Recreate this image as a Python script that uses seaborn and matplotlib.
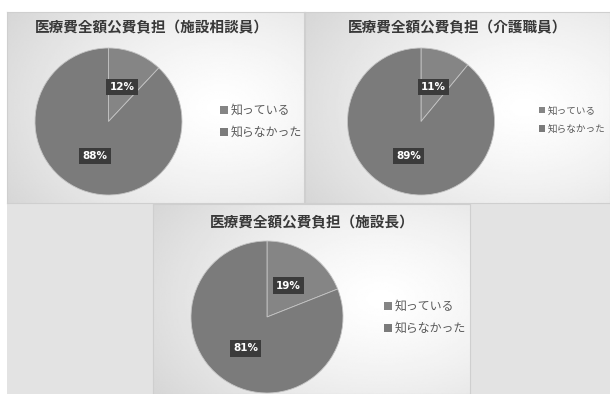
import numpy as np
import matplotlib
matplotlib.use("Agg")
import matplotlib.pyplot as plt
from matplotlib.patches import Rectangle, Patch
import seaborn as sns

sns.set_theme(style="white")
plt.rcParams["font.family"] = ["Noto Sans CJK JP", "DejaVu Sans"]

# Data
categories = ["知っている", "知らなかった"]
titles = ["医療費全額公費負担（施設相談員）",
          "医療費全額公費負担（介護職員）",
          "医療費全額公費負担（施設長）"]
counselor_pct = [12, 88]
careworker_pct = [11, 89]
director_pct = [19, 81]
values = [counselor_pct, careworker_pct, director_pct]

slice_colors = ["#858585", "#7b7b7b"]
palette = sns.color_palette(slice_colors)

W, H = 610, 394
fig = plt.figure(figsize=(W / 100, H / 100), dpi=100)
fig.patch.set_facecolor("white")


def fig_rect(x0, y0, x1, y1):
    """Pixel box (top-left origin) -> figure fraction [l, b, w, h]."""
    return [x0 / W, 1 - y1 / H, (x1 - x0) / W, (y1 - y0) / H]


# Grey backdrop behind the lower row
bg = fig.add_axes(fig_rect(7, 204, 610, 394))
bg.set_axis_off()
bg.add_patch(Rectangle((0, 0), 1, 1, transform=bg.transAxes,
                       facecolor="#e3e3e3", edgecolor="none"))


def panel_background(box, cx=0.72, cy=0.5):
    ax = fig.add_axes(fig_rect(*box))
    ny, nx = 120, 200
    yy, xx = np.mgrid[0:1:ny * 1j, 0:1:nx * 1j]
    d = np.sqrt(((xx - cx) * 1.0) ** 2 + ((yy - cy) * 0.9) ** 2)
    d = d / d.max()
    shade = 1.0 - 0.16 * d ** 1.3
    ax.imshow(shade, cmap="gray", vmin=0, vmax=1, extent=[0, 1, 0, 1],
              aspect="auto", interpolation="bilinear")
    ax.set_xlim(0, 1)
    ax.set_ylim(0, 1)
    ax.set_xticks([])
    ax.set_yticks([])
    for s in ax.spines.values():
        s.set_color("#cfcfcf")
        s.set_linewidth(0.8)
    return ax


panels = [
    dict(box=(7, 12, 304, 203), center=(108.5, 121.5), r=73.5,
         title_xy=(152, 27), legend_xy=(220, 104), legend_size=8.6,
         spacing=0.75),
    dict(box=(305, 12, 610, 203), center=(421, 121.5), r=73.5,
         title_xy=(458, 27), legend_xy=(539, 106), legend_size=6.9,
         spacing=0.95),
    dict(box=(153, 204, 470, 394), center=(267, 317), r=76,
         title_xy=(312, 222), legend_xy=(384, 300), legend_size=8.6,
         spacing=0.75),
]

for p, vals, title in zip(panels, values, titles):
    panel_background(p["box"])
    cx, cy = p["center"]
    r = p["r"]
    ax = fig.add_axes(fig_rect(cx - r, cy - r, cx + r, cy + r))
    ax.set_axis_off()
    wedges, _, autotexts = ax.pie(
        vals, colors=palette, startangle=90, counterclock=False,
        autopct=lambda v: f"{v:.0f}%", pctdistance=0.5,
        wedgeprops=dict(edgecolor="#c4c4c4", linewidth=0.6),
        textprops=dict(color="white", fontsize=7.5, fontweight="bold",
                       family="DejaVu Sans"),
    )
    for t in autotexts:
        t.set_bbox(dict(boxstyle="square,pad=0.3", facecolor="#3b3b3b",
                        edgecolor="none"))
    ax.set_xlim(-1, 1)
    ax.set_ylim(-1, 1)

    tx, ty = p["title_xy"]
    fig.text(tx / W, 1 - ty / H, title, ha="center", va="center",
             fontsize=10.5, fontweight="bold", color="#383838")

    lx, ly = p["legend_xy"]
    handles = [Patch(facecolor=c, edgecolor="none") for c in slice_colors]
    fig.legend(handles, categories, loc="upper left",
               bbox_to_anchor=(lx / W, 1 - ly / H), frameon=False,
               handlelength=0.65, handleheight=0.65, handletextpad=0.25,
               labelspacing=p["spacing"], borderpad=0, borderaxespad=0,
               prop=dict(size=p["legend_size"]), labelcolor="#595959")

fig.savefig("out.png", dpi=100)
